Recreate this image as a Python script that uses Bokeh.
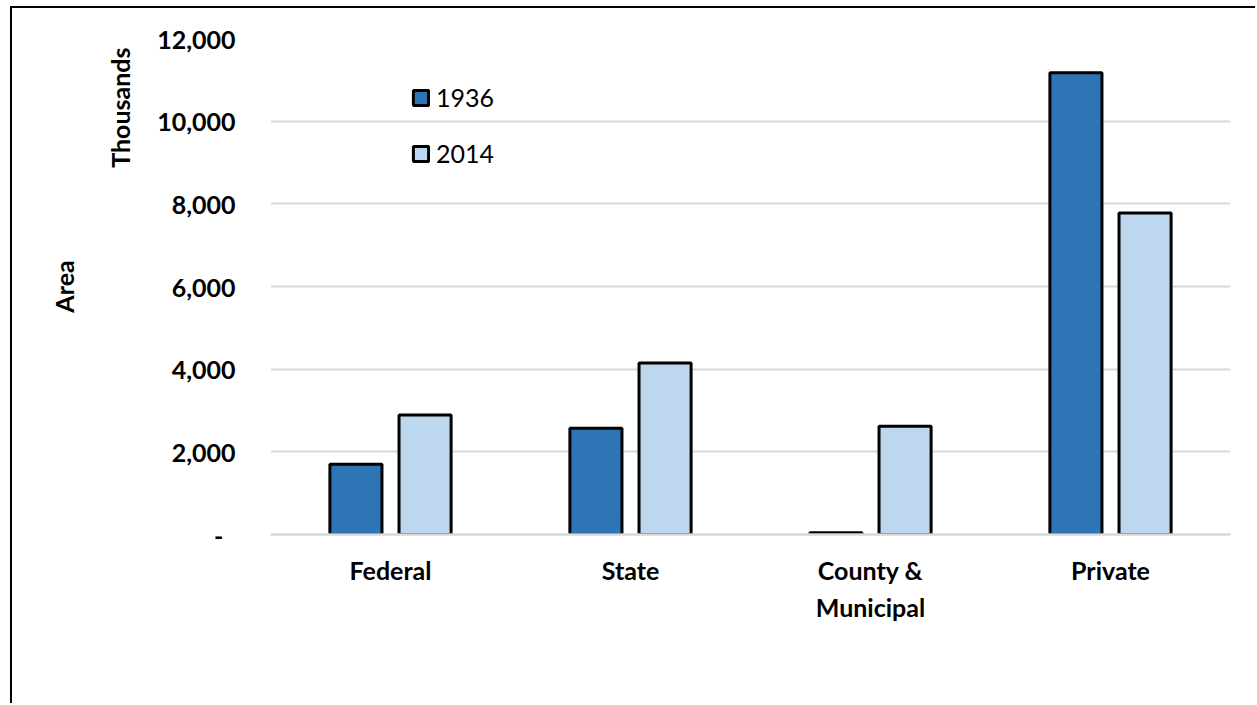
import json
from bokeh.plotting import figure
from bokeh.models import (ColumnDataSource, FactorRange, Range1d, NumeralTickFormatter,
                          FixedTicker, Title, LinearAxis, CategoricalAxis,
                          CustomJSTickFormatter)
from bokeh.transform import dodge
from bokeh.embed import file_html
from bokeh.resources import INLINE

categories = ["Federal", "State", "County & Municipal", "Private"]
label_line1 = {"County & Municipal": "County &"}
label_line2 = {"County & Municipal": "Municipal"}
years = ["1936", "2014"]
area_1936 = [1700, 2570, 40, 11170]
area_2014 = [2890, 4150, 2620, 7780]
y_ticks = [0, 2000, 4000, 6000, 8000, 10000, 12000]

colors = {"1936": "#2E75B6", "2014": "#BDD7EE"}
FONT = "Lato"
FS = "25px"

src = ColumnDataSource(dict(cat=categories, y1936=area_1936, y2014=area_2014))

p = figure(x_range=FactorRange(*categories, range_padding=0),
           y_range=Range1d(0, 12000),
           width=1245, height=697,
           min_border_left=258, min_border_right=27,
           min_border_top=30, min_border_bottom=171,
           output_backend="svg", toolbar_location=None, tools="")
p.styles = {"margin-left": "10px", "margin-top": "6px",
            "border-left": "2px solid black", "border-top": "2px solid black"}
p.outline_line_color = None
p.background_fill_color = "white"
p.border_fill_color = "white"

off = 0.144
bw = 0.217
p.vbar(x=dodge("cat", -off, range=p.x_range), top="y1936", width=bw, source=src,
       fill_color=colors["1936"], line_color="black", line_width=3,
       legend_label="1936")
p.vbar(x=dodge("cat", off, range=p.x_range), top="y2014", width=bw, source=src,
       fill_color=colors["2014"], line_color="black", line_width=3,
       legend_label="2014")

# grid
p.xgrid.grid_line_color = None
p.ygrid.grid_line_color = "#D9D9D9"
p.ygrid.grid_line_width = 2
p.ygrid.ticker = FixedTicker(ticks=y_ticks)

# y axis (tick labels)
ya = p.yaxis[0]
ya.ticker = FixedTicker(ticks=y_ticks)
ya.formatter = NumeralTickFormatter(format="0,0")
ya.major_label_overrides = {0: "-\u00a0\u00a0"}
ya.axis_line_color = None
ya.major_tick_line_color = None
ya.minor_tick_line_color = None
ya.major_tick_out = 0
ya.major_label_standoff = 35
ya.major_label_text_font = FONT
ya.major_label_text_font_style = "bold"
ya.major_label_text_font_size = FS
ya.major_label_text_color = "black"

# display units title
p.add_layout(Title(text="Thousands", align="right", offset=9, standoff=39,
                   text_font=FONT, text_font_style="bold", text_font_size=FS,
                   text_color="black"), "left")

# outer axis carrying the "Area" label
ya2 = LinearAxis(ticker=FixedTicker(ticks=[]), axis_label="Area")
ya2.axis_line_color = None
ya2.major_tick_line_color = None
ya2.minor_tick_line_color = None
ya2.major_tick_out = 0
ya2.major_label_standoff = 0
ya2.axis_label_standoff = 5
ya2.axis_label_text_font = FONT
ya2.axis_label_text_font_style = "bold"
ya2.axis_label_text_font_size = FS
ya2.axis_label_text_color = "black"
p.add_layout(ya2, "left")

def style_cat_axis(ax, standoff):
    ax.axis_line_color = None
    ax.major_tick_line_color = None
    ax.minor_tick_line_color = None
    ax.major_tick_out = 0
    ax.major_label_standoff = standoff
    ax.major_label_text_font = FONT
    ax.major_label_text_font_style = "bold"
    ax.major_label_text_font_size = FS
    ax.major_label_text_color = "black"

# x axis, first line of labels
xa = p.xaxis[0]
style_cat_axis(xa, 20)
xa.axis_line_color = "#D9D9D9"
xa.axis_line_width = 2.5
xa.formatter = CustomJSTickFormatter(
    code="const m = %s; return (tick in m) ? m[tick] : tick;" % json.dumps(label_line1))

# second line of category labels
xa2 = CategoricalAxis()
style_cat_axis(xa2, 4)
xa2.formatter = CustomJSTickFormatter(
    code="const m = %s; return (tick in m) ? m[tick] : '';" % json.dumps(label_line2))
p.add_layout(xa2, "below")

# legend
lg = p.legend[0]
lg.location = (141, 366)
lg.orientation = "vertical"
lg.padding = 0
lg.margin = 0
lg.spacing = 26
lg.glyph_width = 19
lg.glyph_height = 19
lg.label_height = 29
lg.label_standoff = 6
lg.label_text_font = FONT
lg.label_text_font_size = FS
lg.label_text_color = "black"
lg.border_line_color = None
lg.background_fill_alpha = 0

open("out.html", "w").write(file_html(p, INLINE))
